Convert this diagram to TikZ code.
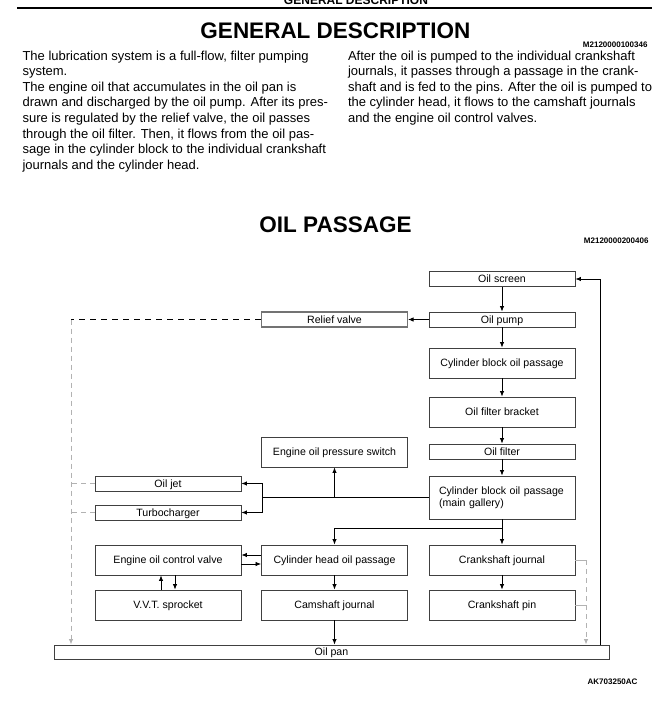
\documentclass[tikz,border=0pt]{standalone}
\usepackage{fontspec}
\setmainfont{Liberation Sans}
\usetikzlibrary{arrows.meta}
\newcommand{\bodyfont}{\fontsize{13}{15.6}\selectfont}
\newcommand{\unitfont}{\fontsize{10.6}{11.6}\selectfont}
\newcommand{\codefont}{\bfseries\fontsize{8}{9}\selectfont}
\newcommand{\titlefont}{\bfseries\fontsize{22.5}{26}\selectfont}

\begin{document}
\begin{tikzpicture}[x=1pt, y=-1pt,
  frame/.style={draw=black!75, line width=0.9pt, minimum width=146pt,
    inner sep=0pt, font=\unitfont},
  unit/.style={frame, minimum height=15pt, text height=7.8pt, text depth=0.8pt},
  tallunit/.style={unit, minimum height=30pt},
  flow/.style={-{Latex[length=5.5pt,width=4.5pt]}, line width=0.8pt},
  greyline/.style={draw=black!30, line width=1pt},
  greydash/.style={greyline, dash pattern=on 5pt off 4pt}]
 \useasboundingbox (0,0) rectangle (671,715);

 % page head
 \node[anchor=base, font=\bfseries\fontsize{12}{14}\selectfont] (head0) at (356,4) {GENERAL DESCRIPTION};
 \draw[line width=2.5pt] (17,8) -- (652,8);
 \node[anchor=base, font=\titlefont] (gd) at (335.5,38) {GENERAL DESCRIPTION};
 \node[anchor=base east, font=\codefont] (code1) at (651,47) {M2120000100346};

 % base of a multi-line node is its last line
 \node[anchor=base west, align=left, font=\bodyfont] (txtl) at (19,169.2)
  {The lubrication system is a full-flow, filter pumping\\
   system.\\
   The engine oil that accumulates in the oil pan is\\
   drawn and discharged by the oil pump. After its pres-\\
   sure is regulated by the relief valve, the oil passes\\
   through the oil filter. Then, it flows from the oil pas-\\
   sage in the cylinder block to the individual crankshaft\\
   journals and the cylinder head.};
 \node[anchor=base west, align=left, font=\bodyfont] (txtr) at (344.5,122.4)
  {After the oil is pumped to the individual crankshaft\\
   journals, it passes through a passage in the crank-\\
   shaft and is fed to the pins. After the oil is pumped to\\
   the cylinder head, it flows to the camshaft journals\\
   and the engine oil control valves.};

 \node[anchor=base, font=\titlefont] (op) at (335.5,232) {OIL PASSAGE};
 \node[anchor=base east, font=\codefont] (code2) at (652,243) {M2120000200406};

 % boxes
 \node[unit]     (screen)  at (502,279)   {Oil screen};
 \node[unit]     (pump)    at (502,319.5) {Oil pump};
 \node[unit, draw=black!55, line width=1.2pt] (relief) at (334.5,319.5) {Relief valve};
 \node[tallunit] (block)   at (502,363)   {Cylinder block oil passage};
 \node[tallunit] (bracket) at (502,412)   {Oil filter bracket};
 \node[unit]     (filter)  at (502,451.5) {Oil filter};
 \node[frame, minimum height=43pt, text width=126pt, inner xsep=10pt, align=left]
                 (gallery) at (502,497.5) {Cylinder block oil passage\\(main gallery)};
 \node[tallunit] (switch)  at (334.5,452) {Engine oil pressure switch};
 \node[unit]     (jet)     at (168,483.5) {Oil jet};
 \node[unit]     (turbo)   at (168,512.5) {Turbocharger};
 \node[tallunit] (ocv)     at (168,560)   {Engine oil control valve};
 \node[tallunit] (head)    at (334.5,560) {Cylinder head oil passage};
 \node[tallunit] (journal) at (502,560)   {Crankshaft journal};
 \node[tallunit] (vvt)     at (168,605)   {V.V.T. sprocket};
 \node[tallunit] (cam)     at (334.5,605) {Camshaft journal};
 \node[tallunit] (pin)     at (502,605)   {Crankshaft pin};
 \node[unit, minimum width=555pt, minimum height=14pt] (pan) at (331.5,652) {Oil pan};

 \node[anchor=base east, font=\codefont] (code3) at (641,684) {AK703250AC};

 % main flow
 \draw[flow] (screen) -- (pump);
 \draw[flow] (pump) -- (relief);
 \draw[flow] (pump) -- (block);
 \draw[flow] (block) -- (bracket);
 \draw[flow] (bracket) -- (filter);
 \draw[flow] (filter) -- (gallery);
 \draw[flow] (gallery) -- (journal);
 \draw[flow] (journal) -- (pin);
 \draw[flow] (head) -- (cam);
 \draw[flow] (cam) -- (cam |- pan.north);

 % branches from the main gallery
 \coordinate (split) at (262,497.5);
 \draw[line width=0.8pt] (gallery.west) -- (split);
 \draw[flow] (split) |- (jet.east);
 \draw[flow] (split) |- (turbo.east);
 \draw[flow] (switch.south |- split) -- (switch.south);
 \coordinate (tohead) at (502,528);
 \draw[flow] (tohead) -| (head.north);

 % oil control valve
 \draw[flow] ([yshift=5pt]head.west) -- ([yshift=5pt]ocv.east);
 \draw[flow] ([yshift=-4pt]ocv.east) -- ([yshift=-4pt]head.west);
 \draw[flow] ([xshift=-7pt]vvt.north) -- ([xshift=-7pt]ocv.south);
 \draw[flow] ([xshift=7pt]ocv.south) -- ([xshift=7pt]vvt.north);

 % return to the oil pan
 \coordinate (rl) at (71,319.5);
 \draw[line width=0.8pt, dash pattern=on 6pt off 5pt] (relief.west) -- (rl);
 \draw[greydash, -{Latex[length=5.5pt,width=4.5pt]}] (rl) -- (rl |- pan.north);
 \draw[greydash] (jet.west) -- (rl |- jet);
 \draw[greydash] (turbo.west) -- (rl |- turbo);
 \coordinate (cr) at (586,560);
 \draw[greyline] (journal.east) -- (cr);
 \draw[greyline] (pin.east) -- (cr |- pin);
 \draw[greydash, -{Latex[length=5.5pt,width=4.5pt]}] (cr) -- (cr |- pan.north);
 \coordinate (back) at (600,279);
 \draw[flow] (back |- pan.north) -- (back) -- (screen.east);
\end{tikzpicture}
\end{document}
